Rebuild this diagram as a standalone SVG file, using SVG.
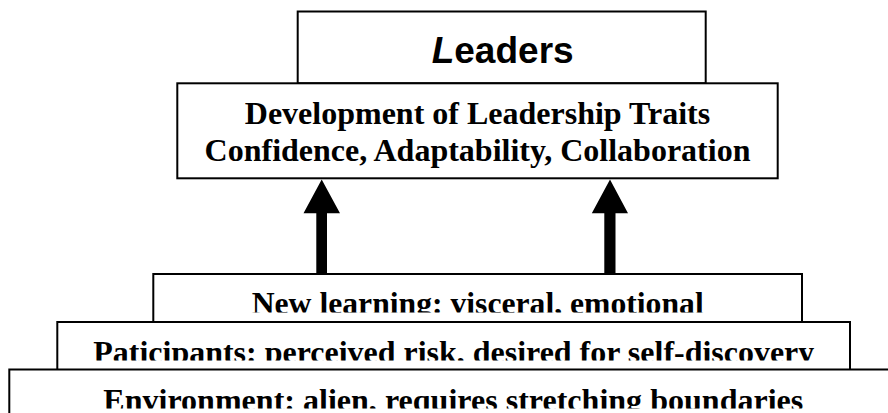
<svg xmlns="http://www.w3.org/2000/svg" width="888" height="413" viewBox="0 0 888 413">
<style>
.box{fill:#fff;stroke:#000;stroke-width:2}
.ser{font-family:"Liberation Serif","Times New Roman",serif;font-weight:bold;font-size:32px;fill:#000}
.san{font-family:"Liberation Sans",Arial,sans-serif;font-weight:bold;font-size:37px;fill:#000}
.arr{fill:#000}
</style>
<defs>
<clipPath id="c1"><rect x="150" y="276" width="660" height="36.5"/></clipPath>
<clipPath id="c2"><rect x="55" y="324" width="800" height="36.5"/></clipPath>
<clipPath id="c3"><rect x="8" y="372" width="880" height="36.5"/></clipPath>
</defs>
<rect width="888" height="413" fill="#fff"/>
<g id="leaders">
<rect class="box" x="297.7" y="11.5" width="408" height="71.8"/>
<text class="san" x="431.7" y="62.5"><tspan font-style="italic">L</tspan>eaders</text>
</g>
<g id="development">
<rect class="box" x="177.3" y="83.3" width="600.4" height="95"/>
<text class="ser" x="477.5" y="124" text-anchor="middle">Development of Leadership Traits</text>
<text class="ser" x="477.5" y="161" text-anchor="middle">Confidence, Adaptability, Collaboration</text>
</g>
<g id="connectors">
<polygon class="arr" points="321.7,179.5 340,213.3 327,213.3 327,274 316.3,274 316.3,213.3 303.5,213.3"/>
<polygon class="arr" points="610,179.5 628,213.3 615.5,213.3 615.5,274 604.3,274 604.3,213.3 591.8,213.3"/>
</g>
<g id="new-learning">
<rect class="box" x="153.3" y="274" width="648.7" height="60"/>
<text class="ser" x="251.7" y="313.5" textLength="452" lengthAdjust="spacingAndGlyphs" clip-path="url(#c1)">New learning: visceral, emotional</text>
</g>
<g id="participants">
<rect class="box" x="57.3" y="322" width="792.7" height="60"/>
<text class="ser" x="93.3" y="362.5" textLength="721" lengthAdjust="spacingAndGlyphs" clip-path="url(#c2)">Paticipants: perceived risk, desired for self-discovery</text>
</g>
<g id="environment">
<rect class="box" x="9.3" y="369.5" width="900" height="60"/>
<text class="ser" x="103.3" y="410.5" textLength="700" lengthAdjust="spacingAndGlyphs" clip-path="url(#c3)">Environment: alien, requires stretching boundaries</text>
</g>
</svg>
